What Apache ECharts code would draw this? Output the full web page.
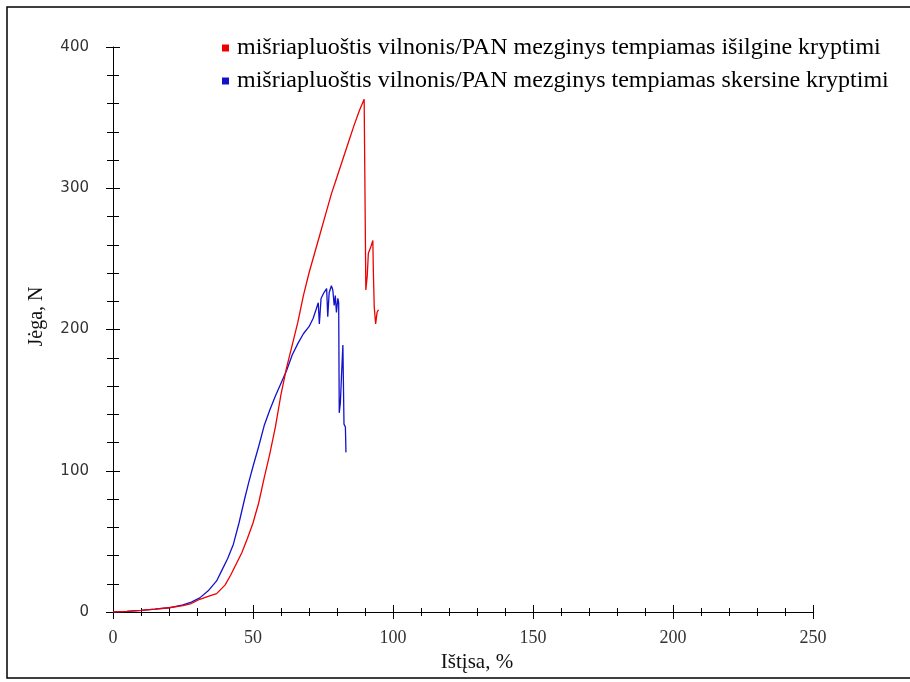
<!DOCTYPE html>
<html>
<head>
    <meta charset="utf-8">
    <title>ECharts</title>
    <script src="https://cdn.jsdelivr.net/npm/echarts@6/dist/echarts.min.js"></script>
</head>
<style>
html,
body {
    margin: 0px;
    width: 100%;
    height: 100%;
    background: #fff;
}
div#main {
    width: 910px;
    height: 682px;
}
</style>
<body>
    <div id="main"></div>
    <script type="text/javascript">
        // series names
        var nameLong = 'mišriapluoštis vilnonis/PAN mezginys tempiamas išilgine kryptimi';
        var nameCross = 'mišriapluoštis vilnonis/PAN mezginys tempiamas skersine kryptimi';

        // [extension %, force N]
        var longData = [
            [0, 0], [5, 0.5], [10, 1.2], [15, 2], [20, 3], [25, 4.5], [28, 6], [31, 9],
            [34, 11], [37, 13], [40, 19], [42, 26], [44, 34], [46, 42], [48, 52], [50, 63],
            [52, 77], [54, 95], [56, 112], [58, 131], [60, 154], [62, 173], [64, 189],
            [66, 205], [68, 224], [70, 240], [72, 254], [74, 268], [76, 282], [78, 296],
            [80, 308], [82, 320], [84, 332], [86, 344], [88, 355], [89.7, 363], [90, 364],
            [90.3, 228], [90.8, 238], [91.2, 254], [92, 258], [92.8, 263], [93, 240],
            [93.3, 216], [93.8, 204], [94.3, 212], [94.8, 214]
        ];
        var crossData = [
            [0, 0], [5, 0.5], [10, 1.2], [15, 2], [20, 3], [25, 5], [28, 7], [31, 10],
            [34, 15], [37, 22], [39, 30], [41, 38], [43, 48], [45, 63], [47, 80],
            [48.5, 92], [50, 103], [52, 117], [54, 132], [56, 143], [58, 153], [60, 162],
            [62, 171], [64, 182], [66, 190], [68, 197], [70, 202], [71.5, 208], [72.5, 214],
            [73.3, 219], [73.7, 204], [74.3, 222], [75.3, 226], [76.3, 229], [76.7, 209],
            [77.2, 226], [78, 231], [78.5, 228], [79, 217], [79.4, 224], [79.8, 212],
            [80.3, 222], [80.6, 219], [80.8, 141], [81.2, 148], [81.6, 167], [82.1, 189],
            [82.4, 189], [82.5, 133], [83, 131], [83.2, 113]
        ];

        var myChart = echarts.init(document.getElementById('main'));

        var serif = '"Liberation Serif", "Times New Roman", serif';
        var axisLine = { lineStyle: { color: '#000', width: 1 } };

        var option = {
            animation: false,
            backgroundColor: '#fff',
            graphic: [{
                type: 'rect',
                shape: { x: 7, y: 7, width: 930, height: 671 },
                style: { fill: 'none', stroke: '#000', lineWidth: 1.5 },
                silent: true
            }],
            legend: {
                orient: 'vertical',
                left: 217,
                top: 31,
                itemGap: 9,
                itemWidth: 7,
                itemHeight: 7,
                icon: 'rect',
                textStyle: { fontFamily: serif, fontSize: 24, color: '#000', padding: [0, 0, 0, 3] },
                data: [nameLong, nameCross]
            },
            grid: { left: 113, right: 97, top: 47, bottom: 70 },
            xAxis: [{
                type: 'value',
                min: 0, max: 250, interval: 50,
                name: 'Ištįsa, %',
                nameLocation: 'middle',
                nameGap: 38,
                nameTextStyle: { fontFamily: serif, fontSize: 21, color: '#111', padding: [0, 0, 0, 28] },
                axisLine: axisLine,
                axisTick: { length: 7, lineStyle: { color: '#000' } },
                minorTick: { show: true, splitNumber: 5, length: 4, lineStyle: { color: '#000' } },
                axisLabel: { fontFamily: serif, fontSize: 18, color: '#333', margin: 17 },
                splitLine: { show: false }
            }, {
                type: 'value', position: 'bottom',
                min: 0, max: 250, interval: 50,
                axisLine: { show: false },
                axisTick: { inside: true, length: 7, lineStyle: { color: '#000' } },
                minorTick: { show: true, splitNumber: 5, length: 4, lineStyle: { color: '#000' } },
                axisLabel: { show: false },
                splitLine: { show: false }
            }],
            yAxis: [{
                type: 'value',
                min: 0, max: 400, interval: 100,
                name: 'Jėga, N',
                nameLocation: 'middle',
                nameGap: 66,
                nameTextStyle: { fontFamily: serif, fontSize: 20, color: '#111', padding: [0, 0, 0, 26] },
                axisLine: axisLine,
                axisTick: { length: 7, lineStyle: { color: '#000' } },
                minorTick: { show: true, splitNumber: 5, length: 6, lineStyle: { color: '#000' } },
                axisLabel: { fontFamily: 'Verdana, "DejaVu Sans", sans-serif', fontSize: 15, color: '#333', margin: 24 },
                splitLine: { show: false }
            }, {
                type: 'value', position: 'left',
                min: 0, max: 400, interval: 100,
                axisLine: { show: false },
                axisTick: { inside: true, length: 7, lineStyle: { color: '#000' } },
                minorTick: { show: true, splitNumber: 5, length: 6, lineStyle: { color: '#000' } },
                axisLabel: { show: false },
                splitLine: { show: false }
            }],
            series: [{
                name: nameLong,
                type: 'line',
                data: longData,
                showSymbol: false,
                z: 3,
                color: '#ee0000',
                lineStyle: { width: 1.3, color: '#ee0000' }
            }, {
                name: nameCross,
                type: 'line',
                data: crossData,
                showSymbol: false,
                z: 2,
                color: '#1212cc',
                lineStyle: { width: 1.3, color: '#1212cc' }
            }]
        };
        myChart.setOption(option);
    </script>
</body>
</html>
